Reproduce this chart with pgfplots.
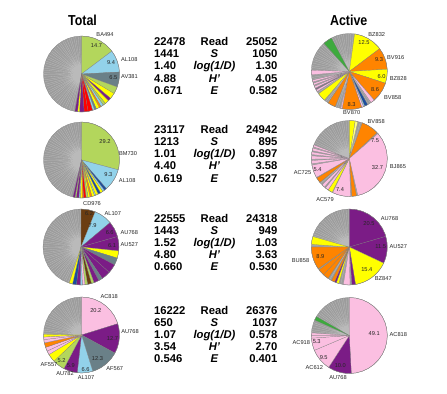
\documentclass[border=0pt]{standalone}
\usepackage{fontspec}
\setmainfont{Liberation Sans}
\usepackage{pgfplots}
\pgfplotsset{compat=1.18}
\usepackage{pgfplotstable}
\usepgfplotslibrary{polar}
\definecolor{YG}{HTML}{B3D65C}
\definecolor{LB}{HTML}{92D2EA}
\definecolor{SL}{HTML}{6A8088}
\definecolor{PU}{HTML}{7B1C86}
\definecolor{YE}{HTML}{FFFF00}
\definecolor{PY}{HTML}{FFFF88}
\definecolor{OR}{HTML}{FF8400}
\definecolor{RE}{HTML}{FF0000}
\definecolor{PK}{HTML}{FBBFE1}
\definecolor{NV}{HTML}{1B4D9E}
\definecolor{BR}{HTML}{6B3D12}
\definecolor{GR}{HTML}{3DAA3D}
\definecolor{GY}{HTML}{9C9C9C}
\definecolor{GL}{HTML}{BABABA}
\pgfplotstableread[row sep=\\]{a r\\0 1\\10 1\\20 1\\30 1\\40 1\\50 1\\60 1\\70 1\\80 1\\90 1\\100 1\\110 1\\120 1\\130 1\\140 1\\150 1\\160 1\\170 1\\180 1\\190 1\\200 1\\210 1\\220 1\\230 1\\240 1\\250 1\\260 1\\270 1\\280 1\\290 1\\300 1\\310 1\\320 1\\330 1\\340 1\\350 1\\360 1\\}\circtab
\pgfplotstableread[row sep=\\]{a r\\0 0\\2 1\\0 0\\5 1\\0 0\\9 1\\0 0\\12 1\\0 0\\16 1\\0 0\\19 1\\0 0\\23 1\\0 0\\27 1\\0 0\\30 1\\0 0\\34 1\\0 0\\37 1\\0 0\\41 1\\0 0\\45 1\\0 0\\48 1\\0 0\\52 1\\0 0\\55 1\\0 0\\59 1\\0 0\\63 1\\0 0\\66 1\\0 0\\70 1\\0 0\\73 1\\0 0\\77 1\\0 0\\81 1\\0 0\\84 1\\0 0\\88 1\\0 0\\91 1\\0 0\\95 1\\0 0\\99 1\\0 0\\102 1\\0 0\\106 1\\0 0\\109 1\\0 0\\113 1\\0 0\\117 1\\0 0\\120 1\\0 0\\124 1\\0 0\\127 1\\0 0\\131 1\\0 0\\135 1\\0 0\\138 1\\0 0\\142 1\\0 0\\145 1\\0 0\\149 1\\0 0\\153 1\\0 0\\156 1\\0 0\\160 1\\0 0\\163 1\\0 0\\167 1\\0 0\\171 1\\0 0\\174 1\\0 0\\178 1\\0 0\\181 1\\0 0\\185 1\\0 0\\189 1\\0 0\\192 1\\0 0\\196 1\\0 0\\199 1\\0 0\\203 1\\0 0\\207 1\\0 0\\210 1\\0 0\\214 1\\0 0\\217 1\\0 0\\221 1\\0 0\\225 1\\0 0\\228 1\\0 0\\232 1\\0 0\\235 1\\0 0\\239 1\\0 0\\243 1\\0 0\\246 1\\0 0\\250 1\\0 0\\253 1\\0 0\\257 1\\0 0\\261 1\\0 0\\264 1\\0 0\\268 1\\0 0\\271 1\\0 0\\275 1\\0 0\\279 1\\0 0\\282 1\\0 0\\286 1\\0 0\\289 1\\0 0\\293 1\\0 0\\297 1\\0 0\\300 1\\0 0\\304 1\\0 0\\307 1\\0 0\\311 1\\0 0\\315 1\\0 0\\318 1\\0 0\\322 1\\0 0\\325 1\\0 0\\329 1\\0 0\\333 1\\0 0\\336 1\\0 0\\340 1\\0 0\\343 1\\0 0\\347 1\\0 0\\351 1\\0 0\\354 1\\0 0\\358 1\\}\startab
\pgfplotsset{pie/.style={anchor=center, width=76bp, height=76bp, scale only axis, hide axis, ymin=0, ymax=1, xmin=0, xmax=360, clip=false}}
\tikzset{sl/.style={draw=black!50, line width=0.2pt}}
\newcommand\W[2]{\addplot[sl,fill=#1] coordinates {(0,0)#2(0,0)};}
\newcommand\BG{\addplot[fill=GY, draw=none] table[x=a,y=r] {\circtab};
\addplot[draw=GL, line width=0.3pt] table[x=a,y=r] {\startab};}
\newcommand\RIM{\addplot[draw=black!50, line width=0.25pt] table[x=a,y=r] {\circtab};}
\newcommand\lab[3]{\node[font=\fontsize{5.7}{6}\selectfont, text=black!85, inner sep=0pt] at (#1bp,-#2bp) {#3};}
\newcommand\trow[4]{%
\node[tt,anchor=base west] at (154bp,{-(#1+4.05)*1bp}) {#2};
\node[tt,anchor=base] at (214.5bp,{-(#1+4.05)*1bp}) {#3};
\node[tt,anchor=base east] at (277.7bp,{-(#1+4.05)*1bp}) {#4};}
\tikzset{tt/.style={font=\fontsize{11.3}{12}\selectfont\bfseries, inner sep=0pt}}
\begin{document}
\begin{tikzpicture}
\path[use as bounding box] (0,0) rectangle (447bp,-394bp);
% ---------- Total 1
\begin{polaraxis}[pie, at={(81.5bp,-74bp)}]
\BG
\W{YG}{(90,1)(80,1)(70,1)(60,1)(50,1)(40,1)(37,1)}
\W{LB}{(37,1)(28,1)(19,1)(10,1)(3,1)}
\W{SL}{(3,1)(-5,1)(-12,1)(-20,1)}
\W{YG}{(-20,1)(-25,1)(-31,1)}
\W{YE}{(-31,1)(-36,1)(-40,1)}
\W{PU}{(-40,1)(-45,1)}
\W{YE}{(-45,1)(-51,1)}
\W{YG}{(-51,1)(-55,1)}
\W{LB}{(-55,1)(-59,1)}
\W{OR}{(-59,1)(-62,1)}
\W{YE}{(-62,1)(-67,1)}
\W{SL}{(-67,1)(-70,1)}
\W{LB}{(-70,1)(-73,1)}
\W{RE}{(-73,1)(-80,1)}
\W{RE}{(-80,1)(-86,1)}
\W{PU}{(-86,1)(-93,1)}
\W{YE}{(-93,1)(-96,1)}
\W{PU}{(-96,1)(-100,1)}
\RIM
\end{polaraxis}
% ---------- Active 1
\begin{polaraxis}[pie, at={(349.3bp,-71.5bp)}]
\BG
\W{YE}{(82,1)(72,1)(62,1)(52,1)(42,1)(37,1)}
\W{OR}{(37,1)(26,1)(15,1)(3.5,1)}
\W{YE}{(3.5,1)(-7,1)(-18,1)}
\W{OR}{(-18,1)(-28,1)(-38,1)(-49,1)}
\W{PK}{(-49,1)(-55,1)}
\W{NV}{(-61,1)(-66,1)}
\W{LB}{(-66,1)(-68,1)}
\W{PK}{(-68,1)(-71,1)}
\W{OR}{(-71,1)(-81,1)(-91,1)(-101,1)}
\W{PK}{(-101,1)(-103,1)}
\W{OR}{(-112,1)(-118,1)(-124,1)}
\W{YE}{(-131,1)(-137,1)(-144,1)}
\W{PK}{(-148,1)(-151,1)}
\W{PU}{(-152,1)(-153,1)}
\W{PK}{(-154,1)(-157,1)}
\W{PK}{(-159,1)(-162,1)}
\W{PK}{(-164,1)(-167,1)}
\W{PK}{(-175,1)(-182,1)}
\W{GR}{(-228,1)(-235,1)(-242,1)}
\RIM
\end{polaraxis}
% ---------- Total 2
\begin{polaraxis}[pie, at={(81.5bp,-160bp)}]
\BG
\W{YG}{(90,1)(80,1)(70,1)(60,1)(50,1)(40,1)(30,1)(20,1)(10,1)(0,1)(-10,1)(-15,1)}
\W{LB}{(-15,1)(-26,1)(-37,1)(-49,1)}
\W{NV}{(-49,1)(-53,1)}
\W{LB}{(-53,1)(-56,1)}
\W{YE}{(-56,1)(-60,1)}
\W{NV}{(-60,1)(-64,1)}
\W{YE}{(-64,1)(-68,1)}
\W{LB}{(-68,1)(-70,1)}
\W{YE}{(-70,1)(-74,1)}
\W{OR}{(-74,1)(-77,1)}
\W{YE}{(-77,1)(-80,1)}
\W{YG}{(-80,1)(-83,1)}
\W{RE}{(-83,1)(-87,1)}
\W{OR}{(-87,1)(-89,1)}
\W{YE}{(-89,1)(-92,1)}
\W{LB}{(-92,1)(-94,1)}
\W{PU}{(-94,1)(-98,1)}
\W{YG}{(-98,1)(-100,1)}
\W{PU}{(-100,1)(-103,1)}
\RIM
\end{polaraxis}
% ---------- Active 2
\begin{polaraxis}[pie, at={(349.3bp,-158.5bp)}]
\BG
\W{YE}{(90,1)(81,1)}
\W{PY}{(81,1)(77,1)}
\W{OR}{(70,1)(61,1)(52,1)(43,1)}
\W{PK}{(41,1)(31,1)(21,1)(11,1)(1,1)(-9,1)(-19,1)(-29,1)(-39,1)(-49,1)(-59,1)(-68,1)(-77,1)}
\W{OR}{(-79,1)(-86,1)}
\W{PK}{(-88,1)(-97,1)(-107,1)(-116,1)}
\W{YE}{(-117,1)(-124,1)}
\W{PK}{(-124,1)(-129,1)}
\W{PK}{(-131,1)(-136,1)}
\W{OR}{(-141,1)(-149,1)}
\W{PK}{(-150,1)(-160,1)(-170,1)}
\W{PK}{(-172,1)(-177,1)}
\W{PK}{(-179,1)(-184,1)}
\W{PK}{(-186,1)(-190,1)}
\W{PK}{(-192,1)(-196,1)}
\W{PK}{(-198,1)(-201,1)}
\RIM
\end{polaraxis}
% ---------- Total 3
\begin{polaraxis}[pie, at={(81bp,-247bp)}]
\BG
\W{BR}{(90,1)(79,1)(68,1)}
\W{LB}{(68,1)(59,1)(49,1)(40,1)}
\W{PU}{(40,1)(28,1)(16,1)}
\W{PU}{(16,1)(5,1)(-6,1)}
\W{YE}{(-6,1)(-17,1)}
\W{SL}{(-17,1)(-28,1)}
\W{PU}{(-28,1)(-35,1)(-42,1)}
\W{PU}{(-42,1)(-49,1)(-56,1)}
\W{SL}{(-56,1)(-62,1)}
\W{PU}{(-62,1)(-70,1)}
\W{YG}{(-70,1)(-74,1)}
\W{BR}{(-74,1)(-80,1)}
\W{YG}{(-80,1)(-84,1)}
\W{PK}{(-84,1)(-88,1)}
\W{LB}{(-88,1)(-91,1)}
\W{PU}{(-91,1)(-97,1)}
\W{NV}{(-97,1)(-103,1)}
\W{YE}{(-103,1)(-108,1)}
\RIM
\end{polaraxis}
% ---------- Active 3
\begin{polaraxis}[pie, at={(349.3bp,-247bp)}]
\BG
\W{PU}{(90,1)(80,1)(70,1)(60,1)(50,1)(40,1)(30,1)(20,1)(16.2,1)}
\W{PU}{(16.2,1)(6,1)(-5,1)(-15,1)(-25.2,1)}
\W{YE}{(-25.2,1)(-35,1)(-45,1)(-55,1)(-65,1)(-75,1)(-80.6,1)}
\W{PU}{(-80.6,1)(-86,1)}
\W{PK}{(-89,1)(-94,1)(-99,1)}
\W{YE}{(-106,1)(-110,1)}
\W{PU}{(-110,1)(-113,1)}
\W{OR}{(-113,1)(-118,1)}
\W{OR}{(-124,1)(-133,1)}
\W{OR}{(-133,1)(-143,1)}
\W{OR}{(-145,1)(-155,1)(-165,1)(-172,1)(-180,1)}
\W{YE}{(-184,1)(-190,1)(-196,1)}
\RIM
\end{polaraxis}
% ---------- Total 4
\begin{polaraxis}[pie, at={(81.5bp,-335bp)}]
\BG
\W{PK}{(90,1)(80,1)(70,1)(60,1)(50,1)(40,1)(30,1)(20,1)(17.3,1)}
\W{PU}{(17.3,1)(7,1)(-3,1)(-13,1)(-20.5,1)(-28.4,1)}
\W{SL}{(-28.4,1)(-38,1)(-48,1)(-58,1)(-66,1)(-72.7,1)}
\W{LB}{(-72.7,1)(-81,1)(-89,1)(-96.5,1)}
\W{PU}{(-96.5,1)(-107,1)(-117.7,1)}
\W{YG}{(-117.7,1)(-127,1)(-136.4,1)}
\W{YE}{(-136.4,1)(-142.7,1)(-149,1)}
\W{PK}{(-149,1)(-155,1)}
\W{PK}{(-155,1)(-161,1)}
\W{OR}{(-161,1)(-168,1)}
\W{PK}{(-168,1)(-173,1)}
\W{PK}{(-173,1)(-177,1)}
\W{YE}{(-177,1)(-181,1)}
\RIM
\end{polaraxis}
% ---------- Active 4
\begin{polaraxis}[pie, at={(349.3bp,-335.5bp)}]
\BG
\W{PK}{(90,1)(80,1)(70,1)(60,1)(50,1)(40,1)(30,1)(20,1)(10,1)(0,1)(-10,1)(-20,1)(-30,1)(-40,1)(-50,1)(-60,1)(-70,1)(-80,1)(-87,1)}
\W{PU}{(-87,1)(-96,1)(-105,1)(-114,1)(-123,1)}
\W{PK}{(-123,1)(-132,1)(-140,1)(-149,1)(-157,1)}
\W{PK}{(-157,1)(-166,1)(-176,1)}
\W{PK}{(-176,1)(-180,1)}
\W{PK}{(-180,1)(-184,1)}
\W{GR}{(-204,1)(-210,1)}
\RIM
\end{polaraxis}
% ---------- titles
\node[font=\fontsize{14.5}{14.5}\selectfont\bfseries, xscale=0.86, anchor=base, inner sep=0pt] at (82.5bp,-25.7bp) {Total};
\node[font=\fontsize{14.5}{14.5}\selectfont\bfseries, xscale=0.86, anchor=base, inner sep=0pt] at (348.7bp,-25bp) {Active};
% ---------- labels
\lab{105}{34.5}{BA494}\lab{96.5}{45.7}{14.7}\lab{129.3}{60}{AL108}\lab{111}{62.3}{9.4}\lab{129.5}{76.7}{AV381}\lab{113.3}{77.3}{6.5}
\lab{376.7}{34.3}{BZ832}\lab{364}{42.7}{12.5}\lab{395.7}{57.7}{BV916}\lab{379}{60}{9.3}\lab{398.3}{79}{BZ828}\lab{381.5}{76.7}{6.0}\lab{392.7}{97.7}{BV858}\lab{375}{89.3}{8.6}\lab{351.5}{104.3}{8.3}\lab{351.7}{112.7}{BV870}
\lab{105}{141.7}{29.2}\lab{128}{153.3}{BM730}\lab{108.3}{174.3}{9.3}\lab{127.2}{181}{AL108}
\lab{376.2}{121.7}{BV858}\lab{375}{140.7}{7.5}\lab{377.5}{167.3}{32.7}\lab{398}{166.7}{BJ865}\lab{317.5}{170}{5.4}\lab{302.5}{172.7}{AC725}\lab{340}{190}{7.4}\lab{325}{200}{AC579}
\lab{92}{204}{CD976}\lab{89}{214}{6.2}\lab{112.8}{213.3}{AL107}\lab{92.5}{225.7}{7.9}\lab{109.7}{233}{6.6}\lab{129.3}{232.3}{AU768}\lab{112}{245.7}{6.1}\lab{129.3}{245}{AU527}
\lab{389.5}{219}{AU768}\lab{369}{223.3}{20.5}\lab{380.8}{246.7}{11.5}\lab{398.3}{246.7}{AU527}\lab{366.8}{270}{15.4}\lab{383.3}{279}{BZ847}\lab{320.3}{256.7}{8.9}\lab{300.5}{260.7}{BU858}
\lab{109.2}{296.7}{AC818}\lab{95.8}{311}{20.2}\lab{130}{331.7}{AU768}\lab{112.5}{338.3}{12.7}\lab{97.5}{358.3}{12.3}\lab{114.7}{368.3}{AF567}\lab{85.5}{370}{6.6}\lab{86}{377.7}{AL107}\lab{70.8}{366}{5.9}\lab{65}{373.3}{AU782}\lab{61.5}{360.7}{5.2}\lab{49}{365}{AF557}
\lab{374.2}{334}{49.1}\lab{398.3}{334.3}{AC818}\lab{301.3}{342.3}{AC918}\lab{316.7}{341.7}{5.3}\lab{323.7}{357.7}{9.5}\lab{314.3}{367.7}{AC612}\lab{340.3}{366}{10.0}\lab{338}{377.3}{AU768}
% ---------- tables
\trow{41.7}{22478}{Read}{25052}
\trow{53.8}{1441}{\textit{S}}{1050}
\trow{65.9}{1.40}{\textit{log(1/D)}}{1.30}
\trow{78.0}{4.88}{\textit{H'}}{4.05}
\trow{90.1}{0.671}{\textit{E}}{0.582}
\trow{129.3}{23117}{Read}{24942}
\trow{141.5}{1213}{\textit{S}}{895}
\trow{153.7}{1.01}{\textit{log(1/D)}}{0.897}
\trow{165.9}{4.40}{\textit{H'}}{3.58}
\trow{178.1}{0.619}{\textit{E}}{0.527}
\trow{218.3}{22555}{Read}{24318}
\trow{230.4}{1443}{\textit{S}}{949}
\trow{242.5}{1.52}{\textit{log(1/D)}}{1.03}
\trow{254.6}{4.80}{\textit{H'}}{3.63}
\trow{266.7}{0.660}{\textit{E}}{0.530}
\trow{310.0}{16222}{Read}{26376}
\trow{322.1}{650}{\textit{S}}{1037}
\trow{334.2}{1.07}{\textit{log(1/D)}}{0.578}
\trow{346.3}{3.54}{\textit{H'}}{2.70}
\trow{358.4}{0.546}{\textit{E}}{0.401}
\end{tikzpicture}
\end{document}
